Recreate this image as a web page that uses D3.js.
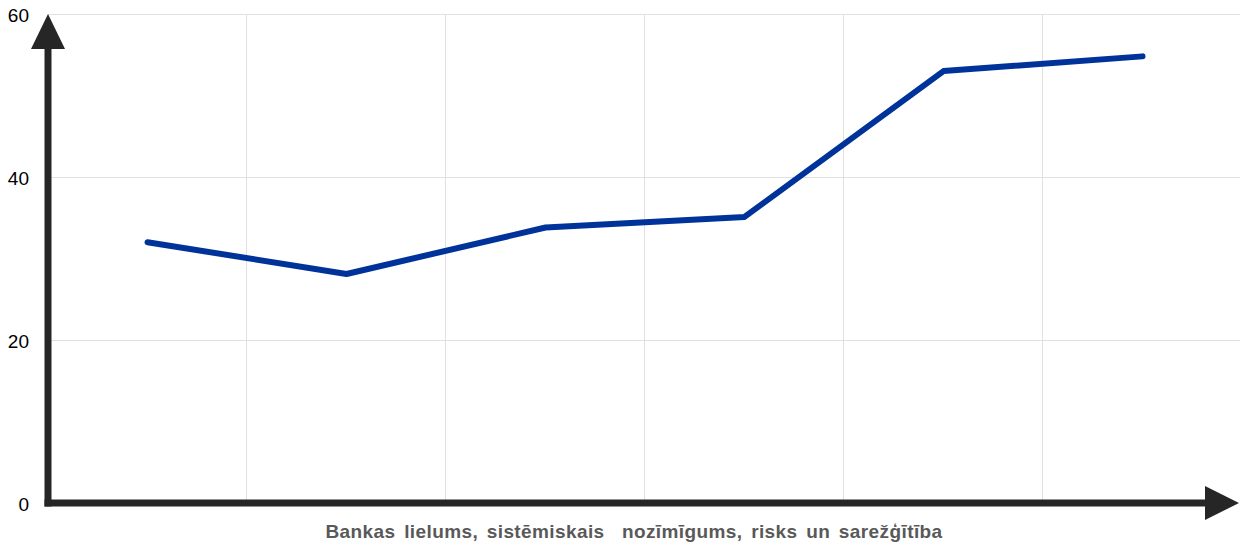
<!DOCTYPE html>
<html lang="lv">
<head>
<meta charset="utf-8" />
<title>Bankas lielums</title>
<script src="https://cdn.jsdelivr.net/npm/d3@7"></script>
<style>
  body { margin: 0; background: #fff; }
  svg { display: block; font-family: "Liberation Sans", Arial, sans-serif; }
  .grid line { stroke: #e0e0e0; stroke-width: 1; }
</style>
</head>
<body>
<div id="chart"></div>
<script>
  var width = 1240, height = 548;

  // data
  var categories = ["1", "2", "3", "4", "5", "6"];
  var values = [32, 28.1, 33.8, 35.1, 53, 54.8];
  var yTicks = [0, 20, 40, 60];
  var xTitle = "Bankas lielums, sistēmiskais  nozīmīgums, risks un sarežģītība";

  var mLeft = 48, mRight = 1242, mTop = 14, mBottom = 503;

  var x = d3.scaleBand().domain(categories).range([mLeft, mRight]);
  var y = d3.scaleLinear().domain([0, 60]).range([mBottom, mTop]);

  var svg = d3.select("#chart").append("svg")
      .attr("width", width)
      .attr("height", height);

  // grid
  var grid = svg.append("g").attr("class", "grid");
  grid.selectAll(".hg").data(yTicks.filter(function(d) { return d > 0; }))
    .enter().append("line")
      .attr("x1", mLeft).attr("x2", width)
      .attr("y1", function(d) { return Math.round(y(d)) + 0.5; })
      .attr("y2", function(d) { return Math.round(y(d)) + 0.5; });
  grid.selectAll(".vg").data(categories.slice(1))
    .enter().append("line")
      .attr("x1", function(d) { return Math.round(x(d)) - 0.5; })
      .attr("x2", function(d) { return Math.round(x(d)) - 0.5; })
      .attr("y1", mTop).attr("y2", mBottom);

  // y tick labels
  svg.selectAll(".ytick").data(yTicks)
    .enter().append("text")
      .attr("x", 29)
      .attr("y", function(d) { return y(d) + 1; })
      .attr("dy", "0.35em")
      .attr("text-anchor", "end")
      .attr("font-size", 19)
      .attr("fill", "#000")
      .text(function(d) { return d; });

  // axes with arrows
  var axisColor = "#262626";
  svg.append("line")
    .attr("x1", mLeft).attr("x2", mLeft)
    .attr("y1", mBottom + 3.5).attr("y2", mTop + 30)
    .attr("stroke", axisColor).attr("stroke-width", 7);
  svg.append("path")
    .attr("d", "M" + mLeft + "," + mTop + "L" + (mLeft + 17) + "," + (mTop + 35) + "L" + (mLeft - 17) + "," + (mTop + 35) + "Z")
    .attr("fill", axisColor);
  svg.append("line")
    .attr("x1", mLeft - 3.5).attr("x2", 1210)
    .attr("y1", mBottom).attr("y2", mBottom)
    .attr("stroke", axisColor).attr("stroke-width", 7);
  svg.append("path")
    .attr("d", "M1239," + mBottom + "L1205," + (mBottom - 17) + "L1205," + (mBottom + 17) + "Z")
    .attr("fill", axisColor);

  // series line
  var line = d3.line()
    .x(function(d, i) { return x(categories[i]) + x.bandwidth() / 2; })
    .y(function(d) { return y(d); });
  svg.append("path")
    .datum(values)
    .attr("d", line)
    .attr("fill", "none")
    .attr("stroke", "#003399")
    .attr("stroke-width", 6)
    .attr("stroke-linecap", "round")
    .attr("stroke-linejoin", "round");

  // x axis title
  svg.append("text")
    .attr("x", 634)
    .attr("y", 538)
    .attr("text-anchor", "middle")
    .attr("font-size", 19)
    .attr("font-weight", "bold")
    .attr("fill", "#595959")
    .attr("letter-spacing", 0.4)
    .attr("word-spacing", 3)
    .style("white-space", "pre")
    .text(xTitle);
</script>
</body>
</html>
